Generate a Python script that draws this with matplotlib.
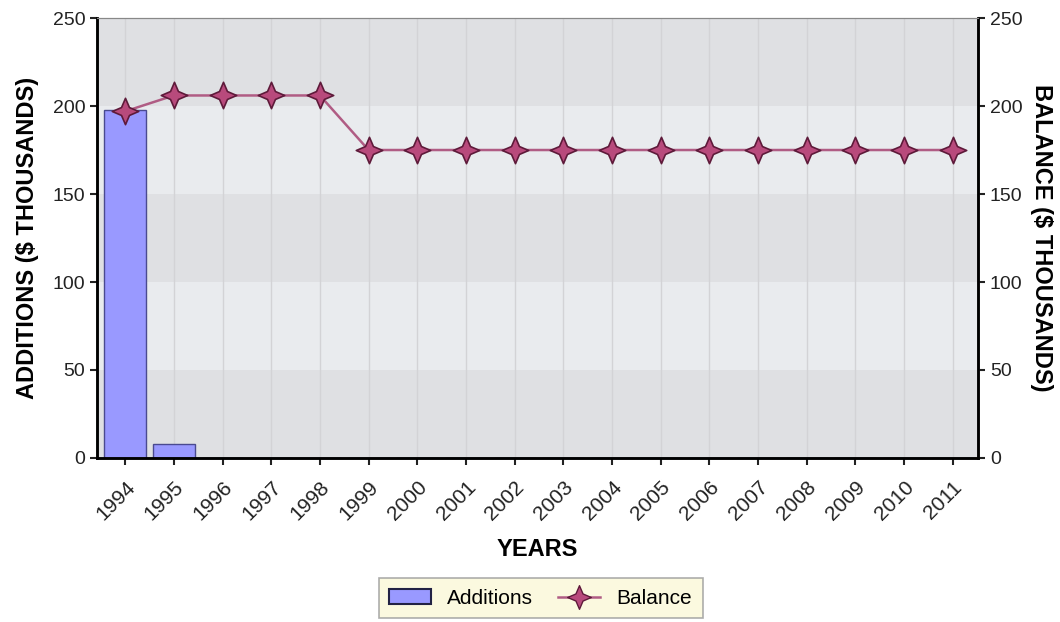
import numpy as np
import matplotlib.pyplot as plt
from matplotlib.path import Path

plt.rcParams['font.family'] = ['Liberation Sans', 'DejaVu Sans']

years = ['1994', '1995', '1996', '1997', '1998', '1999', '2000', '2001', '2002',
         '2003', '2004', '2005', '2006', '2007', '2008', '2009', '2010', '2011']
additions = [198, 8, 0, 0, 0, 0, 0, 0, 0, 0, 0, 0, 0, 0, 0, 0, 0, 0]
balance = [197, 206, 206, 206, 206, 175, 175, 175, 175, 175, 175, 175, 175,
           175, 175, 175, 175, 175]

# four pointed star marker
star = Path([(0, 1), (0.3, 0.3), (1, 0), (0.3, -0.3), (0, -1),
             (-0.3, -0.3), (-1, 0), (-0.3, 0.3), (0, 1)], closed=True)

fig = plt.figure(figsize=(10.6, 6.22), dpi=100)
ax = fig.add_axes([0.0915, 0.2637, 0.8311, 0.7073])
x = np.arange(len(years))

# banded background
for i, lo in enumerate(range(0, 250, 50)):
    ax.axhspan(lo, lo + 50, color='#dfe0e3' if i % 2 == 0 else '#e9ebee', zorder=0, lw=0)
for xi in x:
    ax.axvline(xi, color='#d3d3d6', lw=1, zorder=0.5)

ax.bar(x, additions, width=0.86, color='#9999ff', edgecolor='#4a4a90', lw=1, zorder=2)

ax2 = ax.twinx()
ax2.plot(x, balance, color='#b05c84', lw=1.8, marker=star, markersize=19,
         markerfacecolor='#b84a7c', markeredgecolor='#5e1a3a', markeredgewidth=1.2)

for a in (ax, ax2):
    a.set_ylim(0, 250)
    a.set_yticks(range(0, 251, 50))
    a.tick_params(labelsize=14, colors='#222222', length=5, width=1.5)
    for s in ('left', 'right', 'bottom'):
        a.spines[s].set_linewidth(1.8)
    a.spines['top'].set_color('#888888')
ax.set_xlim(-0.58, 17.52)
ax.set_xticks(x)
ax.set_xticklabels(years, rotation=45, ha='right', rotation_mode='anchor')
ax.tick_params(axis='x', pad=9, labelsize=15)

ax.set_ylabel('ADDITIONS ($ THOUSANDS)', fontsize=17, fontweight='bold', labelpad=10)
ax2.set_ylabel('BALANCE ($ THOUSANDS)', fontsize=17, fontweight='bold', rotation=-90, labelpad=22)
ax.set_xlabel('YEARS', fontsize=17, fontweight='bold', labelpad=10)

h1 = plt.Rectangle((0, 0), 1, 1, facecolor='#9999ff', edgecolor='#222244', lw=1.5)
h2 = plt.Line2D([], [], color='#b05c84', lw=1.8, marker=star, markersize=17,
                markerfacecolor='#b84a7c', markeredgecolor='#5e1a3a')
leg = fig.legend([h1, h2], ['Additions', 'Balance'], ncol=2, loc='center',
                 bbox_to_anchor=(0.51, 0.038), fontsize=15, frameon=True,
                 fancybox=False, edgecolor='#999999', facecolor='#fbf8d8',
                 handlelength=2.0, columnspacing=1.2, borderpad=0.5)
leg.get_frame().set_linewidth(1.2)

fig.savefig('out.png', dpi=100)
